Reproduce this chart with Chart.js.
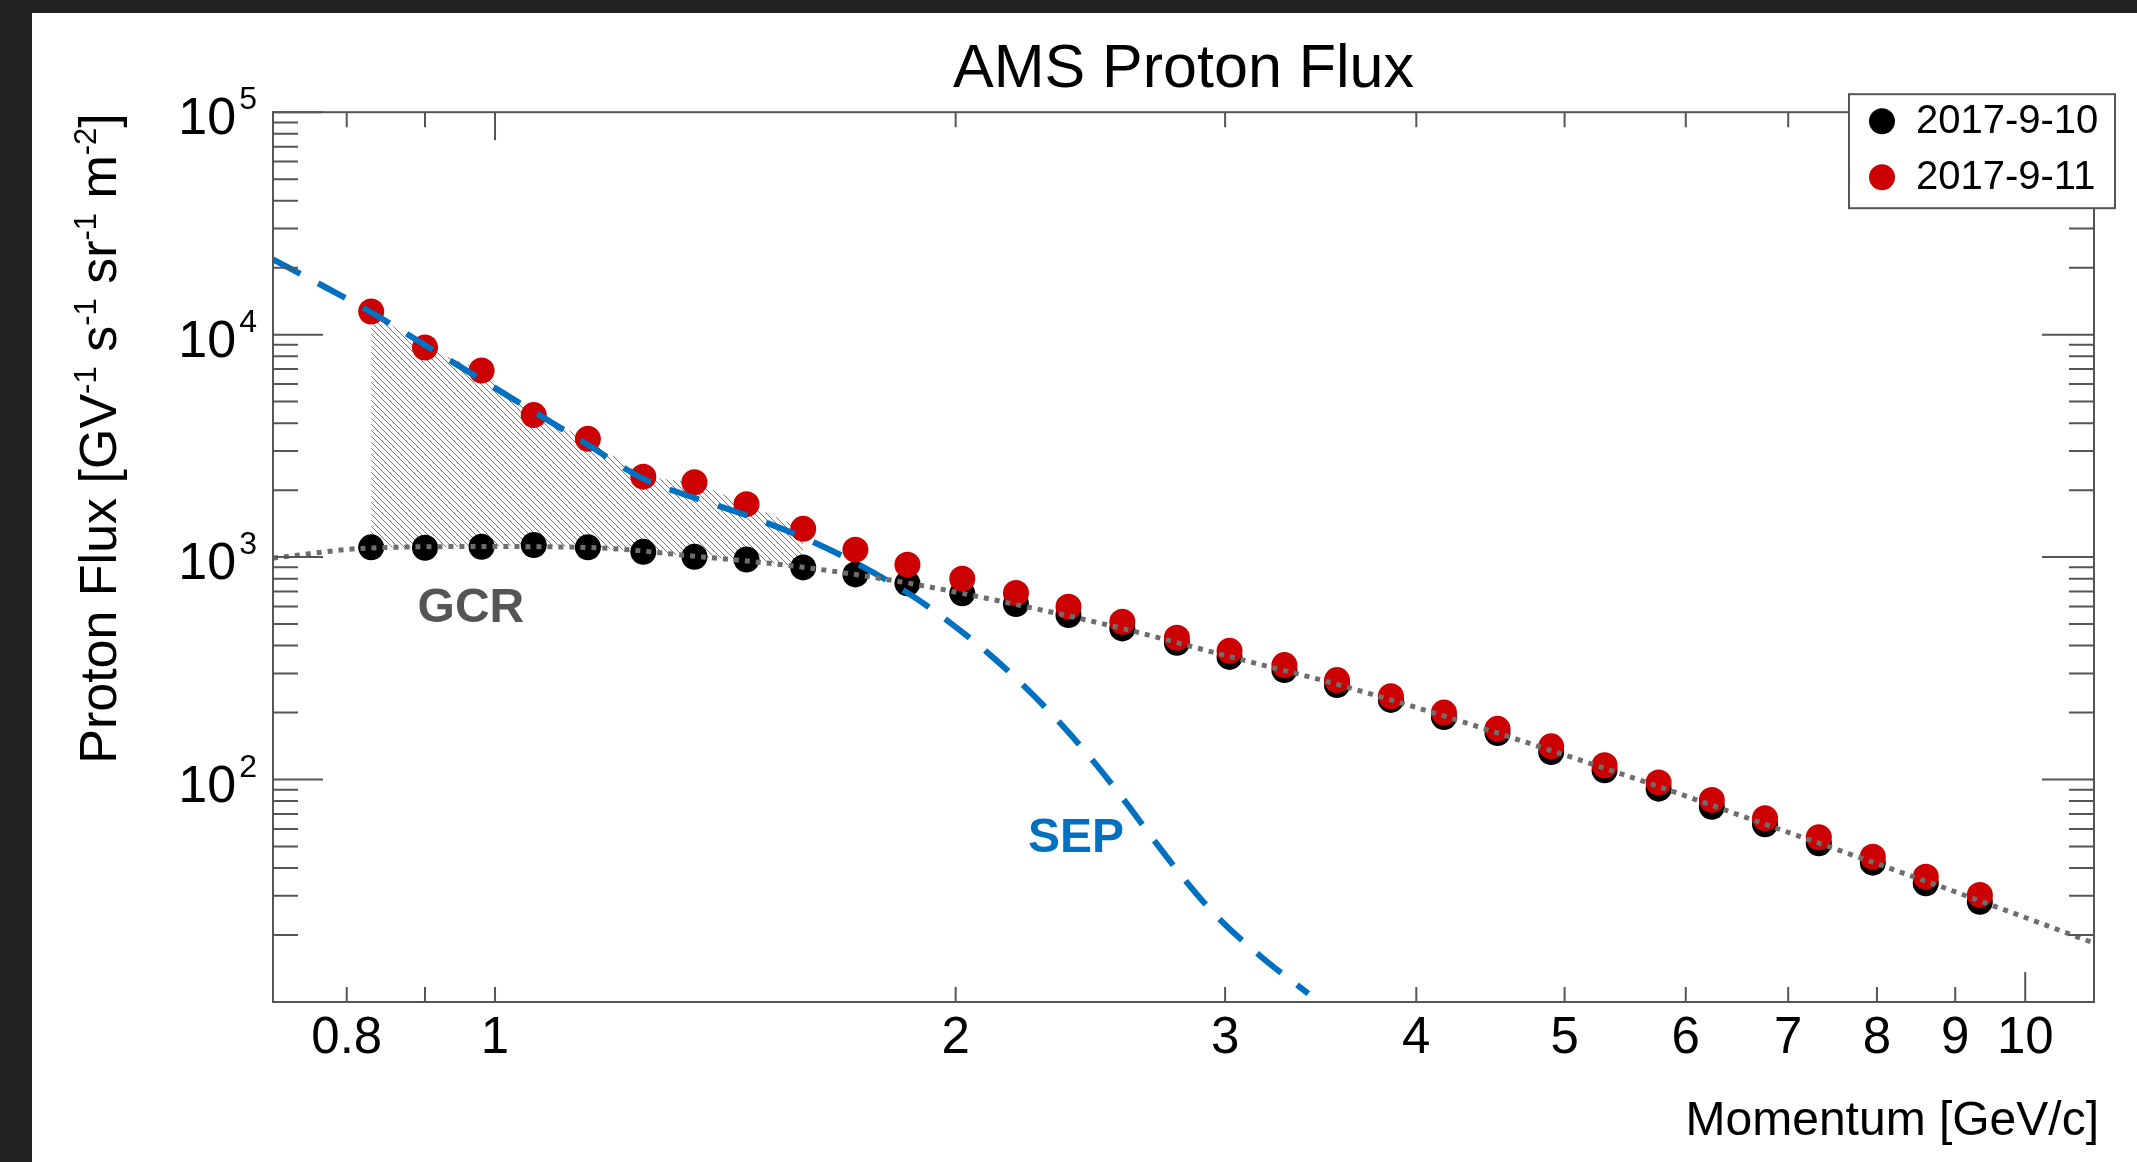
<!DOCTYPE html>
<html>
<head>
<meta charset="utf-8">
<title>AMS Proton Flux</title>
<script src="https://cdn.jsdelivr.net/npm/chart.js@4.4.1/dist/chart.umd.min.js"></script>
<style>
  html, body { margin: 0; padding: 0; background: #222222; overflow: hidden; }
  #wrap { position: absolute; left: 32px; top: 13px; width: 2105px; height: 1149px; background: #ffffff; }
</style>
</head>
<body>
<div id="wrap"><canvas id="fluxChart" width="2105" height="1149"></canvas></div>
<script>
const FONT = "'Liberation Sans', Arial, Helvetica, sans-serif";

// momentum bins [GeV/c]
const momentum = [0.83, 0.90, 0.98, 1.06, 1.15, 1.25, 1.35, 1.46, 1.59, 1.72, 1.86, 2.02, 2.19, 2.37, 2.57, 2.79,
  3.02, 3.28, 3.55, 3.85, 4.17, 4.52, 4.90, 5.31, 5.76, 6.24, 6.76, 7.33, 7.95, 8.61, 9.34];
// flux before the event (2017-9-10)
const flux0910 = [1106, 1101, 1113, 1132, 1106, 1056, 1003, 976, 899, 836, 762, 687, 615, 549, 478, 412,
  356, 311, 266, 228, 191, 162, 133, 110, 91, 75.5, 63, 51.7, 42.3, 34.2, 28.2];
// flux during the event (2017-9-11)
const flux0911 = [12700, 8750, 6900, 4350, 3400, 2300, 2170, 1730, 1340, 1080, 925, 800, 690, 598, 512, 434,
  379, 327, 280, 237, 200, 169, 141, 116, 97, 81, 67, 55, 45, 36.6, 30.3];

// GCR curve (dotted)
const gcrMomentum = [0.716, 0.83, 0.98, 1.15, 1.35, 1.59, 1.86, 2.19, 2.57, 3.02, 3.55, 4.17, 4.90, 5.76, 6.76, 7.95, 9.34, 11.09];
const gcrFlux = [990, 1100, 1115, 1105, 1010, 900, 765, 612, 478, 357, 268, 193, 135, 93, 63, 42.5, 28.5, 18.4];

// SEP curve (dashed)
const sepMomentum = [0.716, 0.83, 0.90, 0.98, 1.06, 1.15, 1.25, 1.35, 1.46, 1.59, 1.72, 1.87, 1.97, 2.10, 2.23,
  2.35, 2.47, 2.58, 2.69, 2.82, 2.96, 3.17, 3.40];
const sepFlux = [21800, 12600, 8970, 6270, 4510, 3200, 2250, 1845, 1540, 1225, 944, 675, 525, 370, 253,
  174, 117, 80, 54.4, 35.8, 24.4, 15.9, 10.9];

// hatched excess: first bins only
const excessBins = 9;

// axes
const xTickValues = [0.8, 0.9, 1, 2, 3, 4, 5, 6, 7, 8, 9, 10];
const xTickLabels = ['0.8', '', '1', '2', '3', '4', '5', '6', '7', '8', '9', '10'];
const yDecades = [10, 100, 1000, 10000, 100000];
const yLabelValues = [100, 1000, 10000, 100000];
const yLabelExponents = ['2', '3', '4', '5'];
const yTitleParts = [['Proton Flux [GV', false], ['-1', true], [' s', false], ['-1', true],
  [' sr', false], ['-1', true], [' m', false], ['-2', true], [']', false]];

// text labels on the plot
const noteText = ['GCR', 'SEP'];
const noteMomentum = [0.89, 2.23];
const noteFlux = [510, 47];
const noteColor = ['#555555', '#0070c0'];

function toPoints(xs, ys) {
  return xs.map((v, i) => ({ x: v, y: ys[i] }));
}

function hatchPattern() {
  const c = document.createElement('canvas');
  c.width = 6;
  c.height = 6;
  const g = c.getContext('2d');
  g.strokeStyle = '#ff3c3c';
  g.lineWidth = 1;
  g.beginPath();
  g.moveTo(-1, -1);
  g.lineTo(7, 7);
  g.stroke();
  return g.createPattern(c, 'repeat');
}

// draw text with superscripts, ending at x = 0, baseline 0
function drawRich(ctx, parts, mainSize, supSize, rise) {
  const widths = parts.map(([t, sup]) => {
    ctx.font = `${sup ? supSize : mainSize}px ${FONT}`;
    return ctx.measureText(t).width;
  });
  let cx = -widths.reduce((s, w) => s + w, 0);
  parts.forEach(([t, sup], i) => {
    ctx.font = `${sup ? supSize : mainSize}px ${FONT}`;
    ctx.fillText(t, cx, sup ? -rise : 0);
    cx += widths[i];
  });
}

const rootFrame = {
  id: 'rootFrame',
  afterDatasetsDraw(chart) {
    const { ctx, chartArea: a, scales: { x, y } } = chart;
    ctx.save();

    // frame and ticks
    ctx.strokeStyle = '#555555';
    ctx.lineWidth = 2;
    ctx.strokeRect(a.left, a.top, a.right - a.left, a.bottom - a.top);
    ctx.beginPath();
    yDecades.forEach((v, i) => {
      const py = y.getPixelForValue(v);
      ctx.moveTo(a.left, py); ctx.lineTo(a.left + 50, py);
      ctx.moveTo(a.right, py); ctx.lineTo(a.right - 52, py);
      if (i < yDecades.length - 1) {
        for (let k = 2; k <= 9; k++) {
          const pm = y.getPixelForValue(v * k);
          ctx.moveTo(a.left, pm); ctx.lineTo(a.left + 25, pm);
          ctx.moveTo(a.right, pm); ctx.lineTo(a.right - 25, pm);
        }
      }
    });
    xTickValues.forEach(v => {
      const px = x.getPixelForValue(v);
      ctx.moveTo(px, a.bottom); ctx.lineTo(px, a.bottom - (v === 10 ? 30 : 15));
      ctx.moveTo(px, a.top); ctx.lineTo(px, a.top + (v === 1 || v === 10 ? 28 : 15));
    });
    ctx.stroke();

    ctx.fillStyle = '#000000';
    // x tick labels
    ctx.font = `51px ${FONT}`;
    ctx.textAlign = 'center';
    ctx.textBaseline = 'alphabetic';
    xTickValues.forEach((v, i) => {
      if (xTickLabels[i]) ctx.fillText(xTickLabels[i], x.getPixelForValue(v), a.bottom + 51);
    });

    // y tick labels 10^n
    ctx.textAlign = 'left';
    yLabelValues.forEach((v, i) => {
      const py = y.getPixelForValue(v) + 22;
      ctx.font = `52px ${FONT}`;
      const w10 = ctx.measureText('10').width;
      ctx.font = `32px ${FONT}`;
      const wExp = ctx.measureText(yLabelExponents[i]).width;
      const x0 = a.left - 16 - (w10 + 3 + wExp);
      ctx.font = `52px ${FONT}`;
      ctx.fillText('10', x0, py);
      ctx.font = `32px ${FONT}`;
      ctx.fillText(yLabelExponents[i], x0 + w10 + 3, py - 25);
    });

    // x axis title
    ctx.font = `48px ${FONT}`;
    ctx.textAlign = 'right';
    ctx.fillText('Momentum [GeV/c]', a.right + 5, a.bottom + 133);

    // y axis title (rotated, aligned to top)
    ctx.save();
    ctx.translate(84, a.top + 1);
    ctx.rotate(-Math.PI / 2);
    ctx.textAlign = 'left';
    drawRich(ctx, yTitleParts, 52, 31, 20);
    ctx.restore();

    // GCR / SEP notes
    ctx.textAlign = 'left';
    ctx.font = `bold 48px ${FONT}`;
    noteText.forEach((t, i) => {
      ctx.fillStyle = noteColor[i];
      ctx.fillText(t, x.getPixelForValue(noteMomentum[i]), y.getPixelForValue(noteFlux[i]));
    });
    ctx.restore();
  },
  afterDraw(chart) {
    const { ctx, chartArea: a } = chart;
    const entries = [3, 2].map(i => chart.data.datasets[i]);
    const left = a.right - 245, top = a.top - 18, w = 266, h = 114;
    ctx.save();
    ctx.fillStyle = '#ffffff';
    ctx.fillRect(left, top, w, h);
    ctx.strokeStyle = '#555555';
    ctx.lineWidth = 2;
    ctx.strokeRect(left, top, w, h);
    ctx.font = `40px ${FONT}`;
    ctx.textAlign = 'left';
    ctx.textBaseline = 'middle';
    entries.forEach((ds, i) => {
      const cy = top + 27 + i * 56;
      ctx.fillStyle = ds.pointBackgroundColor;
      ctx.beginPath();
      ctx.arc(left + 33, cy, 13, 0, Math.PI * 2);
      ctx.fill();
      ctx.fillStyle = '#000000';
      ctx.fillText(ds.label, left + 67, cy + 1);
    });
    ctx.restore();
  }
};

Chart.defaults.font.family = FONT;

const fluxChart = new Chart(document.getElementById('fluxChart'), {
  type: 'line',
  data: {
    datasets: [
      {
        label: 'GCR',
        data: toPoints(gcrMomentum, gcrFlux),
        showLine: true,
        borderColor: '#6e6e6e',
        borderWidth: 5,
        borderDash: [5, 6],
        pointRadius: 0,
        cubicInterpolationMode: 'monotone',
        fill: false,
        order: 0,
      },
      {
        label: 'SEP',
        data: toPoints(sepMomentum, sepFlux),
        showLine: true,
        borderColor: '#0070c0',
        borderWidth: 6,
        borderDash: [31, 20],
        pointRadius: 0,
        cubicInterpolationMode: 'monotone',
        fill: false,
        order: 1,
      },
      {
        label: '2017-9-11',
        data: toPoints(momentum, flux0911),
        showLine: false,
        pointRadius: 13,
        pointBackgroundColor: '#cc0000',
        pointBorderColor: '#cc0000',
        pointBorderWidth: 0,
        order: 2,
      },
      {
        label: '2017-9-10',
        data: toPoints(momentum, flux0910),
        showLine: false,
        pointRadius: 13,
        pointBackgroundColor: '#000000',
        pointBorderColor: '#000000',
        pointBorderWidth: 0,
        order: 3,
      },
      {
        label: 'excess',
        data: toPoints(momentum.slice(0, excessBins), flux0911.slice(0, excessBins)),
        showLine: true,
        borderColor: 'rgba(0,0,0,0)',
        borderWidth: 1,
        pointRadius: 0,
        backgroundColor: hatchPattern(),
        fill: '+1',
        order: 4,
      },
      {
        label: 'base',
        data: toPoints(momentum.slice(0, excessBins), flux0910.slice(0, excessBins)),
        showLine: true,
        borderColor: 'rgba(0,0,0,0)',
        borderWidth: 1,
        pointRadius: 0,
        fill: false,
        order: 5,
      },
    ],
  },
  options: {
    responsive: false,
    devicePixelRatio: 1,
    animation: false,
    events: [],
    layout: { padding: { top: 21, left: 241, right: 43, bottom: 160 } },
    scales: {
      x: { type: 'logarithmic', bounds: 'data', min: 0.716, max: 11.09, display: false },
      y: { type: 'logarithmic', bounds: 'data', min: 10, max: 100000, display: false },
    },
    plugins: {
      legend: { display: false },
      tooltip: { enabled: false },
      title: {
        display: true,
        text: 'AMS Proton Flux',
        fullSize: false,
        color: '#000000',
        font: { size: 61, weight: 'normal', lineHeight: 1.2 },
        padding: { top: 0, bottom: 5 },
      },
    },
  },
  plugins: [rootFrame],
});
</script>
</body>
</html>
